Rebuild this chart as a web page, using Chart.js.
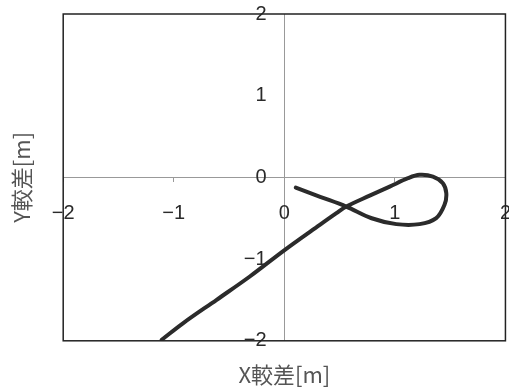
<!DOCTYPE html>
<html>
<head>
<meta charset="utf-8">
<script src="https://cdn.jsdelivr.net/npm/chart.js@4/dist/chart.umd.min.js"></script>
<style>
html,body{margin:0;padding:0;background:#fff;}
canvas{display:block;}
</style>
</head>
<body>
<canvas id="c" width="509" height="387"></canvas>
<script>
// trajectory difference (X, Y) in metres
const xValues = [0.104, 0.33, 0.56, 0.79, 1.013, 1.223, 1.374, 1.449, 1.465, 1.434, 1.344, 1.223, 1.118, 0.953, 0.772, 0.56, 0.471, 0.321, 0.005, -0.312, -0.612, -0.914, -1.109];
const yValues = [-0.125, -0.24, -0.357, -0.50, -0.572, -0.572, -0.499, -0.336, -0.193, -0.071, 0.01, 0.031, -0.01, -0.113, -0.223, -0.357, -0.438, -0.581, -0.887, -1.213, -1.498, -1.783, -1.988];
const tickValues = [-2, -1, 0, 1, 2];
const tickLabels = ['\u22122', '\u22121', '0', '1', '2'];
const xTitle = 'X較差[m]';
const yTitle = 'Y較差[m]';

const points = xValues.map((x, i) => ({x: x, y: yValues[i]}));
const labelFor = v => { const i = tickValues.indexOf(v); return i >= 0 ? tickLabels[i] : ''; };

const frame = {
  id: 'frame',
  afterDraw(chart) {
    const a = chart.chartArea, ctx = chart.ctx;
    ctx.save();
    ctx.strokeStyle = '#222';
    ctx.lineWidth = 1.5;
    ctx.strokeRect(a.left, a.top, a.right - a.left, a.bottom - a.top);
    ctx.restore();
  }
};

const tickFont = {family: '"Liberation Sans", Arial, sans-serif', size: 20};
const titleFont = {family: '"Noto Sans CJK JP", sans-serif', size: 22, lineHeight: 1.1};
const zeroOnly = ctx => (ctx.tick && ctx.tick.value === 0) ? '#999' : 'rgba(0,0,0,0)';

new Chart(document.getElementById('c'), {
  type: 'scatter',
  data: {
    datasets: [{
      data: points,
      showLine: true,
      borderColor: '#2b2b2b',
      borderWidth: 4,
      pointRadius: 0,
      tension: 0.35,
      borderCapStyle: 'round',
      borderJoinStyle: 'round'
    }]
  },
  options: {
    responsive: false,
    animation: false,
    layout: {padding: {left: 0, right: 3, top: 14, bottom: 0}},
    plugins: {legend: {display: false}, tooltip: {enabled: false}},
    scales: {
      x: {
        type: 'linear', min: -2, max: 2, position: {y: 0},
        afterBuildTicks: s => { s.ticks = tickValues.map(v => ({value: v})); },
        ticks: {callback: v => labelFor(v), color: '#2a2a2a', font: tickFont, padding: -2, maxRotation: 0, autoSkip: false},
        grid: {drawOnChartArea: true, color: zeroOnly, drawTicks: true, tickLength: 26, tickColor: '#999', tickBorderDash: [4, 60]},
        border: {display: true, color: '#999', width: 1}
      },
      y: {
        type: 'linear', min: -2, max: 2, position: {x: -0.16},
        afterBuildTicks: s => { s.ticks = tickValues.map(v => ({value: v})); },
        ticks: {callback: v => labelFor(v), color: '#2a2a2a', font: tickFont, padding: 0, autoSkip: false},
        grid: {drawOnChartArea: false, drawTicks: false},
        border: {display: false}
      },
      xt: {
        type: 'linear', axis: 'x', position: 'bottom',
        ticks: {display: false},
        grid: {display: false, drawTicks: false},
        border: {display: false},
        title: {display: true, text: xTitle, color: '#555', font: titleFont, padding: {top: 22, bottom: 0}}
      },
      yt: {
        type: 'linear', axis: 'y', position: 'left',
        ticks: {display: false},
        grid: {display: false, drawTicks: false},
        border: {display: false},
        title: {display: true, text: yTitle, color: '#555', font: titleFont, padding: {top: 10, bottom: 29}}
      }
    }
  },
  plugins: [frame]
});
</script>
</body>
</html>
